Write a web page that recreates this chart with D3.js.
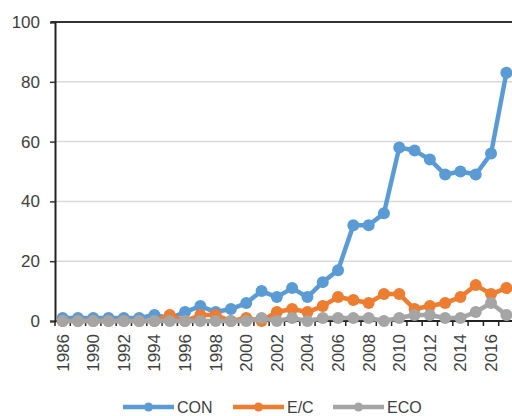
<!DOCTYPE html>
<html>
<head>
<meta charset="utf-8">
<script src="https://cdn.jsdelivr.net/npm/d3@7"></script>
<style>
  body { margin: 0; background: #fff; }
  text { font-family: "Liberation Sans", Arial, sans-serif; fill: #404040; }
</style>
</head>
<body>
<div id="chart"></div>
<script>
// years on the category axis (1987, 1988 are missing in the source)
var years = ["1986","1989","1990","1991","1992","1993","1994","1995","1996","1997",
             "1998","1999","2000","2001","2002","2003","2004","2005","2006","2007",
             "2008","2009","2010","2011","2012","2013","2014","2015","2016","2017"];

var con = [1,1,1,1,1,1,2,1,3,5,3,4,6,10,8,11,8,13,17,32,32,36,58,57,54,49,50,49,56,83];
var ec  = [0,0,0,0,0,0,0,2,0,2,2,0,1,0,3,4,3,5,8,7,6,9,9,4,5,6,8,12,9,11];
var eco = [0,0,0,0,0,0,0,0,0,0,0,0,0,1,0,1,0,1,1,1,1,0,1,2,2,1,1,3,6,2];

var seriesNames = ["CON", "E/C", "ECO"];
var seriesColors = ["#5b9bd5", "#ed7d31", "#a5a5a5"];
var yTicks = [0, 20, 40, 60, 80, 100];

var width = 512, height = 416;
var plotLeft = 55, plotTop = 22, plotBottom = 321;
var step = 15.3;

var svg = d3.select("#chart").append("svg")
    .attr("width", width)
    .attr("height", height);

var x = d3.scaleBand()
    .domain(years)
    .range([plotLeft, plotLeft + step * years.length])
    .padding(0);

var y = d3.scaleLinear()
    .domain([0, 100])
    .range([plotBottom, plotTop]);

// gridlines
svg.append("g")
    .selectAll("line")
    .data(yTicks.filter(function(d) { return d > 0 && d < 100; }))
    .enter().append("line")
    .attr("x1", plotLeft).attr("x2", width)
    .attr("y1", function(d) { return y(d); })
    .attr("y2", function(d) { return y(d); })
    .attr("stroke", "#d9d9d9")
    .attr("stroke-width", 1.5);

// top border line
svg.append("line")
    .attr("x1", plotLeft - 4).attr("x2", width)
    .attr("y1", y(100)).attr("y2", y(100))
    .attr("stroke", "#333").attr("stroke-width", 2);

// y axis
var yAxis = svg.append("g")
    .attr("transform", "translate(" + plotLeft + ",0)")
    .call(d3.axisLeft(y).tickValues(yTicks).tickSize(5).tickPadding(10));
yAxis.select(".domain").attr("stroke", "#222").attr("stroke-width", 2);
yAxis.selectAll(".tick line").attr("stroke", "#333").attr("stroke-width", 1.5);
yAxis.selectAll(".tick text")
    .attr("font-size", 17)
    .attr("fill", "#404040")
    .style("font-family", "Liberation Sans, Arial, sans-serif");

// x axis: ticks at category boundaries
var xg = svg.append("g");
xg.append("line")
    .attr("x1", plotLeft).attr("x2", width)
    .attr("y1", plotBottom).attr("y2", plotBottom)
    .attr("stroke", "#222").attr("stroke-width", 2);
xg.selectAll(".btick")
    .data(years)
    .enter().append("line")
    .attr("class", "btick")
    .attr("x1", function(d) { return x(d); })
    .attr("x2", function(d) { return x(d); })
    .attr("y1", plotBottom).attr("y2", plotBottom + 5)
    .attr("stroke", "#222").attr("stroke-width", 1.5);

// x labels, every other category
xg.selectAll(".xlab")
    .data(years.filter(function(d, i) { return i % 2 === 0; }))
    .enter().append("text")
    .attr("class", "xlab")
    .attr("transform", function(d) {
        return "translate(" + (x(d) + x.bandwidth() / 2 + 6) + "," + (plotBottom + 13) + ") rotate(-90)";
    })
    .attr("text-anchor", "end")
    .attr("font-size", 17)
    .text(function(d) { return d; });

// lines and markers
var allSeries = [con, ec, eco];
var line = d3.line()
    .x(function(d, i) { return x(years[i]) + x.bandwidth() / 2; })
    .y(function(d) { return y(d); });

allSeries.forEach(function(vals, s) {
    var g = svg.append("g");
    g.append("path")
        .datum(vals)
        .attr("fill", "none")
        .attr("stroke", seriesColors[s])
        .attr("stroke-width", 4.5)
        .attr("stroke-linejoin", "round")
        .attr("d", line);
    g.selectAll("circle")
        .data(vals)
        .enter().append("circle")
        .attr("cx", function(d, i) { return x(years[i]) + x.bandwidth() / 2; })
        .attr("cy", function(d) { return y(d); })
        .attr("r", 6)
        .attr("fill", seriesColors[s]);
});

// legend
var legendX = [123, 233, 333];
var legend = svg.append("g");
seriesNames.forEach(function(name, s) {
    var lg = legend.append("g").attr("transform", "translate(" + legendX[s] + ",407)");
    lg.append("line")
        .attr("x1", 0).attr("x2", 51)
        .attr("stroke", seriesColors[s]).attr("stroke-width", 4.5);
    lg.append("circle")
        .attr("cx", 25.5).attr("r", 4.5)
        .attr("fill", seriesColors[s]);
    lg.append("text")
        .attr("x", 54)
        .attr("dy", "0.35em")
        .attr("font-size", 16)
        .text(name);
});
</script>
</body>
</html>
